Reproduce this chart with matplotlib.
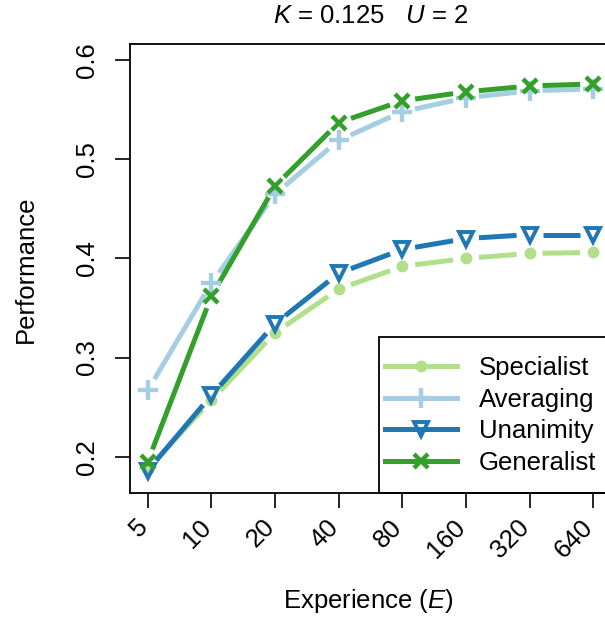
import numpy as np
import matplotlib
matplotlib.use("Agg")
import matplotlib.pyplot as plt
import matplotlib.transforms as mtransforms
from matplotlib.lines import Line2D
from matplotlib.patches import Rectangle

plt.rcParams['font.family'] = ['Liberation Sans', 'DejaVu Sans']
plt.rcParams['mathtext.fontset'] = 'custom'
plt.rcParams['mathtext.rm'] = 'Liberation Sans'
plt.rcParams['mathtext.it'] = 'Liberation Sans:italic'

# data
experience = ["5", "10", "20", "40", "80", "160", "320", "640"]
specialist = [0.188, 0.257, 0.325, 0.369, 0.392, 0.400, 0.405, 0.406]
averaging = [0.267, 0.375, 0.465, 0.519, 0.548, 0.562, 0.569, 0.571]
unanimity = [0.186, 0.262, 0.334, 0.385, 0.409, 0.420, 0.424, 0.424]
generalist = [0.195, 0.362, 0.473, 0.537, 0.559, 0.568, 0.574, 0.576]

series = [
    ("Specialist", specialist, "#b2df8a", dict(marker="o", ms=7.5, mfc="#b2df8a", mec="#b2df8a", mew=1)),
    ("Averaging", averaging, "#a6cee3", dict(marker="+", ms=15, mew=3.2)),
    ("Unanimity", unanimity, "#1f78b4", dict(marker="v", ms=10.5, mfc="none", mec="#1f78b4", mew=2.8)),
    ("Generalist", generalist, "#33a02c", dict(marker="x", ms=10.5, mew=3.2)),
]

FS = 18.5
W, H = 605, 617
fig = plt.figure(figsize=(W / 100, H / 100), dpi=100)
left, right, top, bottom = 130, 611, 44.3, 493.3
ax = fig.add_axes([left / W, 1 - bottom / H, (right - left) / W, (bottom - top) / H])

x = np.arange(len(experience))
ax.set_xlim(-0.28, len(experience) - 1 + 0.28)
ax.set_ylim(0.163, 0.616)

gap = 13  # px gap between line and point, like R type="b"
lw = 3.6
inv = ax.transData.inverted()
for name, vals, col, mk in series:
    pts = ax.transData.transform(np.column_stack([x, vals]))
    for i in range(len(pts) - 1):
        p0, p1 = pts[i], pts[i + 1]
        d = p1 - p0
        L = np.hypot(*d)
        if L <= 2 * gap:
            continue
        u = d / L
        a = inv.transform(p0 + u * gap)
        b = inv.transform(p1 - u * gap)
        ax.plot([a[0], b[0]], [a[1], b[1]], color=col, lw=lw, solid_capstyle="butt", zorder=2)
    ax.plot(x, vals, ls="none", color=col, zorder=3, **mk)

ax.set_xticks(x)
ax.set_xticklabels(experience, rotation=45, ha="right", va="center", rotation_mode="anchor")
ax.set_yticks([0.2, 0.3, 0.4, 0.5, 0.6])
ax.set_yticklabels(["0.2", "0.3", "0.4", "0.5", "0.6"], rotation=90, va="center")
ax.tick_params(axis="both", direction="out", length=10.8, width=1.2, labelsize=FS, colors="black")
ax.tick_params(axis="x", pad=10.8)
ax.tick_params(axis="y", pad=11.5)
shift = mtransforms.ScaledTranslation(-4 / 100, 0, fig.dpi_scale_trans)
for lab in ax.get_xticklabels():
    lab.set_transform(lab.get_transform() + shift)
for s in ax.spines.values():
    s.set_linewidth(1.3)

ax.set_xlabel("Experience ($E$)", fontsize=FS)
ax.xaxis.set_label_coords(0.495, -0.209)
ax.set_ylabel("Performance", fontsize=FS)
ax.yaxis.set_label_coords(-0.192, 0.5)
ax.set_title("$K$ = 0.125   $U$ = 2", fontsize=FS, pad=15.5)

# legend box in R style: frame to the plot's bottom edge
ax.add_patch(Rectangle((0.518, 0), 0.6, 0.348, transform=ax.transAxes, fill=False,
                       edgecolor="black", lw=1.3, zorder=4, clip_on=False))
handles = [Line2D([0], [0], color=col, lw=lw, **mk) for name, vals, col, mk in series]
leg = ax.legend(handles, [s[0] for s in series], loc="center left", fontsize=FS,
                frameon=False, handlelength=2.8, handletextpad=0.85, labelspacing=0.3,
                borderpad=0, borderaxespad=0, bbox_to_anchor=(0.530, 0.173))
leg.set_zorder(5)

fig.savefig("out.png", dpi=100)
